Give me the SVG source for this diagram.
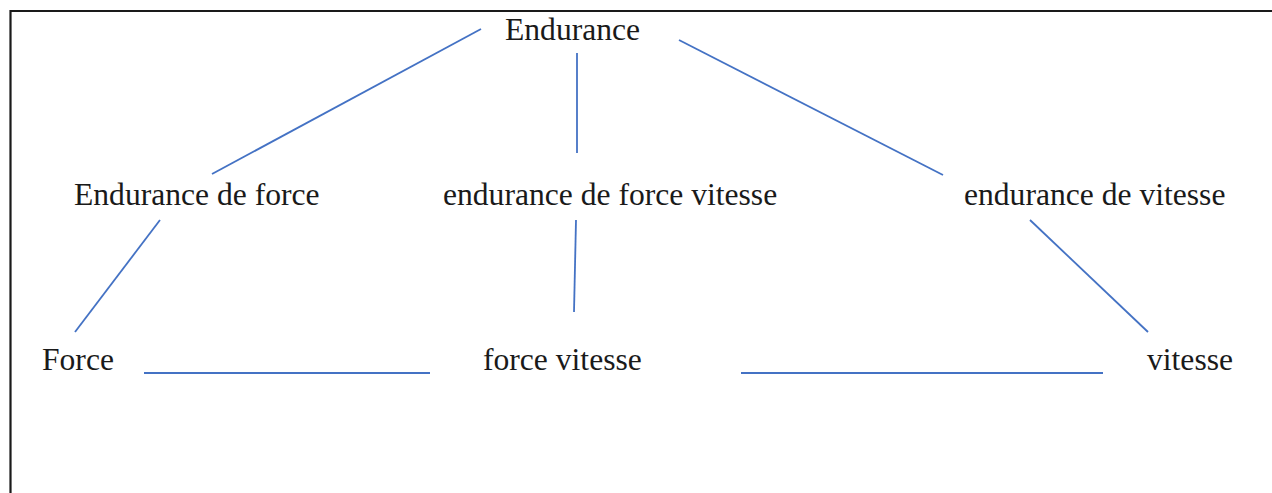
<svg xmlns="http://www.w3.org/2000/svg" width="1272" height="493" viewBox="0 0 1272 493">
  <style>
    .lbl { font-family: "Liberation Serif", "Times New Roman", serif; font-size: 31.6px; fill: #1a1a1a; }
    .link { stroke: #4472C4; stroke-width: 1.8; fill: none; }
    .frame { stroke: #1a1a1a; stroke-width: 2.2; fill: none; }
  </style>
  <rect width="1272" height="493" fill="#ffffff"/>
  <!-- page frame: top and left edges -->
  <path class="frame" d="M10.5 493 V11 H1272"/>

  <g id="connectors">
    <line class="link" x1="481" y1="29" x2="212" y2="174"/>
    <line class="link" x1="577" y1="53" x2="577" y2="153"/>
    <line class="link" x1="679" y1="40" x2="943" y2="175"/>
    <line class="link" x1="160" y1="220" x2="75" y2="332"/>
    <line class="link" x1="576" y1="220" x2="574" y2="312"/>
    <line class="link" x1="1030" y1="220" x2="1148" y2="332"/>
    <line class="link" x1="144" y1="373" x2="430" y2="373"/>
    <line class="link" x1="741" y1="373" x2="1103" y2="373"/>
  </g>

  <g id="endurance"><text class="lbl" x="505" y="40">Endurance</text></g>
  <g id="endurance-force"><text class="lbl" x="74" y="205">Endurance de force</text></g>
  <g id="endurance-force-vitesse"><text class="lbl" x="443" y="205">endurance de force vitesse</text></g>
  <g id="endurance-vitesse"><text class="lbl" x="964" y="205">endurance de vitesse</text></g>
  <g id="force"><text class="lbl" x="42" y="370">Force</text></g>
  <g id="force-vitesse"><text class="lbl" x="483" y="370">force vitesse</text></g>
  <g id="vitesse"><text class="lbl" x="1147" y="370">vitesse</text></g>
</svg>
